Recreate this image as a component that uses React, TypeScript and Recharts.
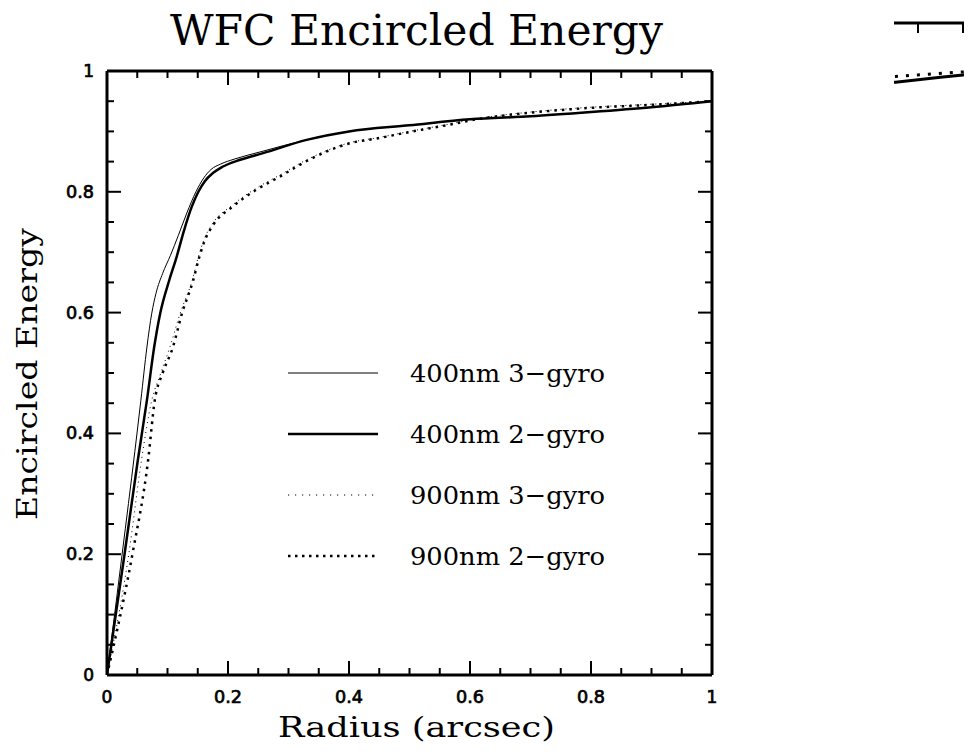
import { LineChart, Line, XAxis, YAxis, Legend, Label } from 'recharts'

// radius (arcsec) / encircled energy
const r400_3gyro = [0, 0.025, 0.046, 0.056, 0.066, 0.074, 0.081, 0.092, 0.105, 0.118, 0.132, 0.147, 0.16, 0.172, 0.188, 0.21, 0.253, 0.33, 0.4, 0.5, 0.6, 0.7, 0.8, 0.9, 1]
const ee400_3gyro = [0, 0.2, 0.37, 0.455, 0.543, 0.599, 0.632, 0.665, 0.695, 0.728, 0.765, 0.8, 0.823, 0.837, 0.846, 0.854, 0.866, 0.886, 0.9, 0.91, 0.92, 0.925, 0.932, 0.94, 0.95]

const r400_2gyro = [0, 0.029, 0.051, 0.066, 0.078, 0.088, 0.103, 0.115, 0.127, 0.14, 0.151, 0.162, 0.175, 0.19, 0.22, 0.258, 0.33, 0.4, 0.5, 0.6, 0.7, 0.8, 0.9, 1]
const ee400_2gyro = [0, 0.2, 0.356, 0.455, 0.543, 0.599, 0.654, 0.692, 0.735, 0.775, 0.8, 0.818, 0.831, 0.841, 0.853, 0.864, 0.886, 0.9, 0.91, 0.92, 0.925, 0.932, 0.94, 0.95]

const r900_3gyro = [0, 0.036, 0.057, 0.074, 0.089, 0.104, 0.121, 0.141, 0.151, 0.16, 0.175, 0.206, 0.242, 0.286, 0.33, 0.4, 0.45, 0.5, 0.56, 0.617, 0.7, 0.8, 0.9, 1]
const ee900_3gyro = [0, 0.2, 0.356, 0.455, 0.5, 0.543, 0.599, 0.654, 0.692, 0.72, 0.748, 0.777, 0.803, 0.828, 0.853, 0.881, 0.89, 0.9, 0.911, 0.922, 0.932, 0.94, 0.945, 0.95]

const r900_2gyro = [0, 0.042, 0.068, 0.079, 0.092, 0.109, 0.124, 0.142, 0.152, 0.161, 0.176, 0.207, 0.243, 0.287, 0.33, 0.4, 0.45, 0.5, 0.56, 0.617, 0.7, 0.8, 0.9, 1]
const ee900_2gyro = [0, 0.2, 0.356, 0.455, 0.5, 0.543, 0.599, 0.652, 0.69, 0.718, 0.746, 0.775, 0.801, 0.826, 0.851, 0.88, 0.889, 0.899, 0.91, 0.921, 0.931, 0.939, 0.944, 0.95]

const majorTicks = [0, 0.2, 0.4, 0.6, 0.8, 1]
const allTicks = [0, 0.05, 0.1, 0.15, 0.2, 0.25, 0.3, 0.35, 0.4, 0.45, 0.5, 0.55, 0.6, 0.65, 0.7, 0.75, 0.8, 0.85, 0.9, 0.95, 1]

// the clipped corner of the neighbouring panel, top right
const cornerR = [0.2, 0.3, 0.4, 0.45]
const cornerSolid = [0.898, 0.906, 0.914, 0.918]
const cornerDotted = [0.909, 0.914, 0.919, 0.921]
const cornerTicks = [0.3, 0.4]

const toPoints = (r: number[], ee: number[]) => r.map((v, i) => ({ r: v, ee: ee[i] }))

const series = [
  { name: '400nm 3−gyro', data: toPoints(r400_3gyro, ee400_3gyro), width: 1, dash: undefined, legendDash: undefined },
  { name: '400nm 2−gyro', data: toPoints(r400_2gyro, ee400_2gyro), width: 2.5, dash: undefined, legendDash: undefined },
  { name: '900nm 3−gyro', data: toPoints(r900_3gyro, ee900_3gyro), width: 1, dash: '1 4', legendDash: '1.2 5.8' },
  { name: '900nm 2−gyro', data: toPoints(r900_2gyro, ee900_2gyro), width: 2.5, dash: '2.5 5', legendDash: '2.5 4.5' },
]

const SERIF = 'DejaVu Serif'
const SANS = 'DejaVu Sans'
const frame = { stroke: '#000', strokeWidth: 3 }

const isMajor = (v: number) => majorTicks.includes(v)

const TickText = ({ x, y, anchor, v }: { x: number; y: number; anchor: 'middle' | 'end'; v: number }) => {
  const label = String(v)
  const wide = label.length > 1
  return (
    <text x={x} y={y} textAnchor={anchor} fontFamily={SANS} fontSize={17} fill="#000" stroke="#000" strokeWidth={0.7}
      textLength={wide ? 28 : undefined} lengthAdjust={wide ? 'spacingAndGlyphs' : undefined}>
      {label}
    </text>
  )
}

// inward ticks, long for majors and short for minors
const makeTick = (side: 'bottom' | 'top' | 'left' | 'right', labels: boolean) => (p: any) => {
  const v = p.payload.value
  const len = isMajor(v) ? 14 : 7
  let x2 = p.x
  let y2 = p.y
  if (side === 'bottom') y2 = p.y - len
  if (side === 'top') y2 = p.y + len
  if (side === 'left') x2 = p.x + len
  if (side === 'right') x2 = p.x - len
  return (
    <g>
      <line x1={p.x} y1={p.y} x2={x2} y2={y2} stroke="#000" strokeWidth={2} />
      {labels && isMajor(v) && side === 'bottom' && <TickText x={p.x} y={p.y + 28} anchor="middle" v={v} />}
      {labels && isMajor(v) && side === 'left' && <TickText x={p.x - 13} y={p.y + 6} anchor="end" v={v} />}
    </g>
  )
}

function LegendBox() {
  return (
    <svg width={340} height={220}>
      {series.map((s, i) => {
        const cy = 18 + i * 61
        return (
          <g key={s.name}>
            <line x1={8} x2={98} y1={cy} y2={cy} stroke="#000" strokeWidth={s.width} strokeDasharray={s.legendDash} />
            <text x={130} y={cy + 9} fontFamily={SERIF} fontSize={25} textLength={195} lengthAdjust="spacingAndGlyphs" fill="#000">
              {s.name}
            </text>
          </g>
        )
      })}
    </svg>
  )
}

const renderTitle = (props: any) => {
  const vb = props.viewBox
  return (
    <text x={vb.x + vb.width / 2 + 7} y={45} textAnchor="middle" fontFamily={SERIF} fontSize={43} textLength={493} lengthAdjust="spacingAndGlyphs" fill="#000">
      WFC Encircled Energy
    </text>
  )
}

const renderXLabel = (props: any) => {
  const vb = props.viewBox
  return (
    <text x={vb.x + vb.width / 2 + 7} y={737} textAnchor="middle" fontFamily={SERIF} fontSize={27} textLength={277} lengthAdjust="spacingAndGlyphs" fill="#000">
      Radius (arcsec)
    </text>
  )
}

const renderYLabel = (props: any) => {
  const vb = props.viewBox
  const cx = 37
  const cy = vb.y + vb.height / 2 + 1
  return (
    <text x={cx} y={cy} transform={`rotate(-90, ${cx}, ${cy})`} textAnchor="middle" fontFamily={SERIF} fontSize={27} textLength={292} lengthAdjust="spacingAndGlyphs" fill="#000">
      Encircled Energy
    </text>
  )
}

export default function App() {
  return (
    <div style={{ position: 'absolute', left: 0, top: 0, width: 969, height: 755, background: '#fff' }}>
      <LineChart width={969} height={755} margin={{ top: 70, right: 256, bottom: 79, left: 106 }}>
        <XAxis xAxisId="x" dataKey="r" type="number" domain={[0, 1]} allowDataOverflow ticks={allTicks} height={1}
          tickSize={0} tickMargin={0} axisLine={frame} tickLine={false} tick={makeTick('bottom', true)} interval={0}>
          <Label content={renderXLabel} />
        </XAxis>
        <XAxis xAxisId="xt" orientation="top" dataKey="r" type="number" domain={[0, 1]} allowDataOverflow ticks={allTicks} height={1}
          tickSize={0} tickMargin={0} axisLine={frame} tickLine={false} tick={makeTick('top', false)} interval={0}>
          <Label content={renderTitle} />
        </XAxis>
        <YAxis yAxisId="y" type="number" domain={[0, 1]} allowDataOverflow ticks={allTicks} width={1}
          tickSize={0} tickMargin={0} axisLine={frame} tickLine={false} tick={makeTick('left', true)} interval={0}>
          <Label content={renderYLabel} />
        </YAxis>
        <YAxis yAxisId="yr" orientation="right" type="number" domain={[0, 1]} allowDataOverflow ticks={allTicks} width={1}
          tickSize={0} tickMargin={0} axisLine={frame} tickLine={false} tick={makeTick('right', false)} interval={0} />

        {series.map((s) => (
          <Line key={s.name} name={s.name} data={s.data} dataKey="ee" xAxisId="x" yAxisId="y"
            type="monotone" stroke="#000" strokeWidth={s.width} strokeDasharray={s.dash}
            dot={false} activeDot={false} isAnimationActive={false} />
        ))}

        <Legend layout="vertical" align="center" verticalAlign="middle" content={() => <LegendBox />}
          wrapperStyle={{ left: 280, top: 355, width: 340, height: 220 }} />
      </LineChart>

      <div style={{ position: 'absolute', left: 894, top: 0, width: 70, height: 100, overflow: 'hidden' }}>
        <div style={{ position: 'absolute', left: -111, top: 0 }}>
          <LineChart width={450} height={700} margin={{ top: 22, right: 0, bottom: 73, left: 0 }}>
            <XAxis xAxisId="c" orientation="top" dataKey="r" type="number" domain={[0, 1]} allowDataOverflow ticks={cornerTicks}
              height={1} tickSize={0} tickMargin={0} axisLine={frame} tickLine={false} interval={0}
              tick={(p: any) => <line x1={p.x} y1={p.y} x2={p.x} y2={p.y + 10} stroke="#000" strokeWidth={2} />} />
            <YAxis yAxisId="c" type="number" domain={[0, 1]} allowDataOverflow hide />
            <Line data={toPoints(cornerR, cornerSolid)} dataKey="ee" xAxisId="c" yAxisId="c" type="monotone"
              stroke="#000" strokeWidth={3} dot={false} activeDot={false} isAnimationActive={false} />
            <Line data={toPoints(cornerR, cornerDotted)} dataKey="ee" xAxisId="c" yAxisId="c" type="monotone"
              stroke="#000" strokeWidth={3} strokeDasharray="3 8" dot={false} activeDot={false} isAnimationActive={false} />
          </LineChart>
        </div>
      </div>
    </div>
  )
}
